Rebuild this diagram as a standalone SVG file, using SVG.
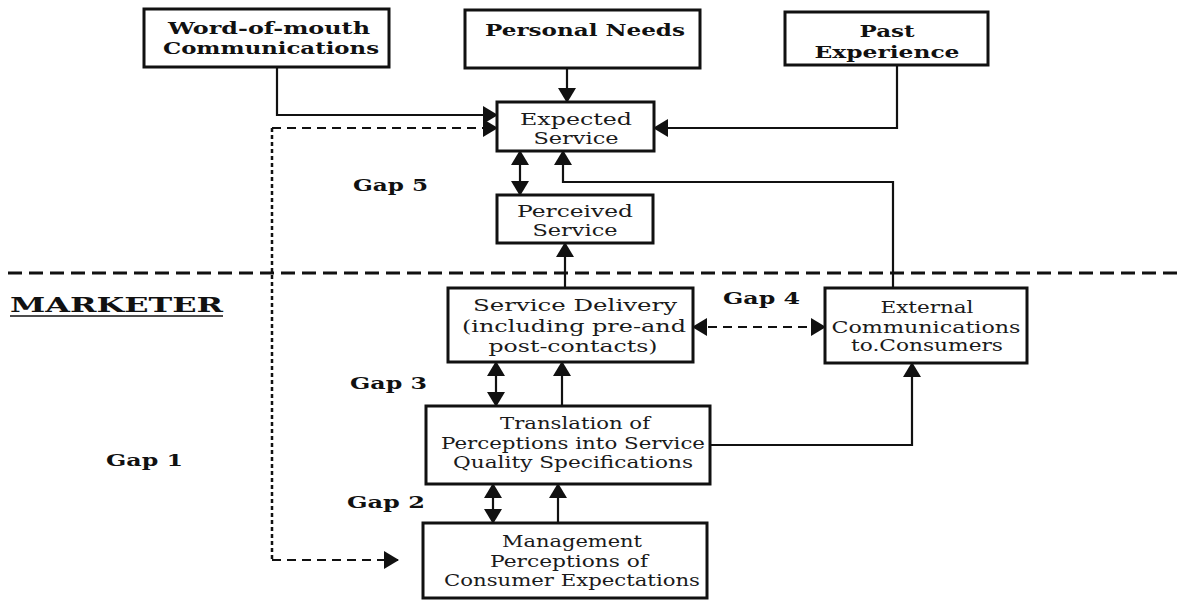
<svg xmlns="http://www.w3.org/2000/svg" width="1177" height="601" viewBox="0 0 1177 601">
<defs>
<marker id="ah" viewBox="0 0 15 18" refX="14" refY="9" markerWidth="15" markerHeight="18" markerUnits="userSpaceOnUse" orient="auto-start-reverse">
<path d="M0,0 L15,9 L0,18 z" fill="#111"/>
</marker>
</defs>
<style>
.box{fill:#fff;stroke:#111;stroke-width:3}
.t{font-family:"DejaVu Serif","Liberation Serif",serif;font-size:17px;fill:#1a1a1a;text-anchor:middle}
.b{font-family:"DejaVu Serif","Liberation Serif",serif;font-size:17.5px;font-weight:bold;fill:#111;text-anchor:middle}
.gap{font-family:"DejaVu Serif","Liberation Serif",serif;font-size:17.5px;font-weight:bold;fill:#111}
.ln{fill:none;stroke:#111;stroke-width:2.2}
.da{fill:none;stroke:#111;stroke-width:2.2;stroke-dasharray:9 6}
.dot{fill:none;stroke:#111;stroke-width:2.5;stroke-dasharray:4 3}
.sep{fill:none;stroke:#111;stroke-width:3;stroke-dasharray:14 7}
</style>
<rect width="1177" height="601" fill="#fff"/>

<g id="separator">
<path class="sep" d="M8,273 H1177"/>
</g>

<g id="connectors">
<path class="ln" d="M277,67 V115 H497" marker-end="url(#ah)"/>
<path class="da" d="M272,128 H497" marker-end="url(#ah)"/>
<path class="dot" d="M272,128 V560"/>
<path class="da" d="M272,560 H398" marker-end="url(#ah)"/>
<path class="ln" d="M567,68 V102" marker-end="url(#ah)"/>
<path class="ln" d="M897,65 V128 H654" marker-end="url(#ah)"/>
<path class="ln" d="M520,151 V195" marker-start="url(#ah)" marker-end="url(#ah)"/>
<path class="ln" d="M893,288 V182 H563 V151" marker-end="url(#ah)"/>
<path class="ln" d="M565,288 V243" marker-end="url(#ah)"/>
<path class="da" d="M693,327 H825" marker-start="url(#ah)" marker-end="url(#ah)"/>
<path class="ln" d="M496,362 V406" marker-start="url(#ah)" marker-end="url(#ah)"/>
<path class="ln" d="M562,406 V362" marker-end="url(#ah)"/>
<path class="ln" d="M710,445 H912 V363" marker-end="url(#ah)"/>
<path class="ln" d="M493,484 V523" marker-start="url(#ah)" marker-end="url(#ah)"/>
<path class="ln" d="M558,523 V484" marker-end="url(#ah)"/>
</g>

<g id="word-of-mouth">
<rect class="box" x="144" y="9" width="245" height="58"/>
<text class="b" x="269" y="34" textLength="202" lengthAdjust="spacingAndGlyphs">Word-of-mouth</text>
<text class="b" x="271" y="54" textLength="216" lengthAdjust="spacingAndGlyphs">Communications</text>
</g>

<g id="personal-needs">
<rect class="box" x="465" y="10" width="235" height="58"/>
<text class="b" x="585" y="36" textLength="200" lengthAdjust="spacingAndGlyphs">Personal Needs</text>
</g>

<g id="past-experience">
<rect class="box" x="785" y="12" width="203" height="53"/>
<text class="b" x="887" y="37" textLength="55" lengthAdjust="spacingAndGlyphs">Past</text>
<text class="b" x="887" y="58" textLength="145" lengthAdjust="spacingAndGlyphs">Experience</text>
</g>

<g id="expected-service">
<rect class="box" x="497" y="102" width="157" height="49"/>
<text class="t" x="576" y="125" textLength="112" lengthAdjust="spacingAndGlyphs">Expected</text>
<text class="t" x="576" y="144" textLength="85" lengthAdjust="spacingAndGlyphs">Service</text>
</g>

<g id="perceived-service">
<rect class="box" x="497" y="195" width="156" height="48"/>
<text class="t" x="575" y="217" textLength="116" lengthAdjust="spacingAndGlyphs">Perceived</text>
<text class="t" x="575" y="236" textLength="85" lengthAdjust="spacingAndGlyphs">Service</text>
</g>

<g id="service-delivery">
<rect class="box" x="448" y="288" width="245" height="74"/>
<text class="t" x="575" y="311" textLength="204" lengthAdjust="spacingAndGlyphs">Service Delivery</text>
<text class="t" x="574" y="332" textLength="224" lengthAdjust="spacingAndGlyphs">(including pre-and</text>
<text class="t" x="573" y="352" textLength="169" lengthAdjust="spacingAndGlyphs">post-contacts)</text>
</g>

<g id="external-communications">
<rect class="box" x="825" y="288" width="202" height="75"/>
<text class="t" x="927" y="313" textLength="93" lengthAdjust="spacingAndGlyphs">External</text>
<text class="t" x="926" y="333" textLength="189" lengthAdjust="spacingAndGlyphs">Communications</text>
<text class="t" x="927" y="351" textLength="152" lengthAdjust="spacingAndGlyphs">to.Consumers</text>
</g>

<g id="translation">
<rect class="box" x="426" y="406" width="284" height="78"/>
<text class="t" x="575" y="429" textLength="150" lengthAdjust="spacingAndGlyphs">Translation of</text>
<text class="t" x="573" y="449" textLength="264" lengthAdjust="spacingAndGlyphs">Perceptions into Service</text>
<text class="t" x="573" y="468" textLength="240" lengthAdjust="spacingAndGlyphs">Quality Specifications</text>
</g>

<g id="management-perceptions">
<rect class="box" x="423" y="523" width="284" height="75"/>
<text class="t" x="572" y="547" textLength="140" lengthAdjust="spacingAndGlyphs">Management</text>
<text class="t" x="569" y="567" textLength="158" lengthAdjust="spacingAndGlyphs">Perceptions of</text>
<text class="t" x="572" y="586" textLength="256" lengthAdjust="spacingAndGlyphs">Consumer Expectations</text>
</g>

<g id="labels">
<text class="gap" x="353" y="191" textLength="75" lengthAdjust="spacingAndGlyphs">Gap 5</text>
<text class="gap" x="723" y="304" textLength="77" lengthAdjust="spacingAndGlyphs">Gap 4</text>
<text class="gap" x="350" y="389" textLength="77" lengthAdjust="spacingAndGlyphs">Gap 3</text>
<text class="gap" x="106" y="466" textLength="77" lengthAdjust="spacingAndGlyphs">Gap 1</text>
<text class="gap" x="347" y="508" textLength="78" lengthAdjust="spacingAndGlyphs">Gap 2</text>
<text class="gap" x="10" y="312" textLength="213" lengthAdjust="spacingAndGlyphs" style="font-size:21px">MARKETER</text>
<path class="ln" d="M10,316 H223" style="stroke-width:1.5"/>
</g>
</svg>
